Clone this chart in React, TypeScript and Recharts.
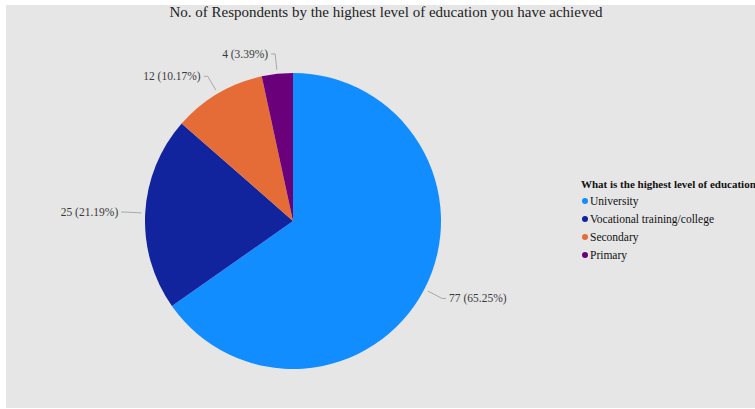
import React from 'react';
import { PieChart, Pie, Cell, Legend } from 'recharts';

const categories = ['University', 'Vocational training/college', 'Secondary', 'Primary'];
const respondents = [77, 25, 12, 4];
const colors = ['#118DFF', '#12239E', '#E66C37', '#6B007B'];

const chartTitle = 'No. of Respondents by the highest level of education you have achieved';
const legendTitle = 'What is the highest level of education';

const data = categories.map((name, i) => ({ name, value: respondents[i] }));
const total = respondents.reduce((a, b) => a + b, 0);

const RADIAN = Math.PI / 180;
const FONT = '"Liberation Serif", "DejaVu Serif", serif';

const renderLabel = (props: any) => {
  const { cx, cy, midAngle, outerRadius, value } = props;
  const cos = Math.cos(-midAngle * RADIAN);
  const sin = Math.sin(-midAngle * RADIAN);
  const sx = cx + (outerRadius + 4) * cos;
  const sy = cy + (outerRadius + 4) * sin;
  const mx = cx + (outerRadius + 20) * cos;
  const my = cy + (outerRadius + 20) * sin;
  const right = cos >= 0;
  const ex = mx + (right ? 4 : -4);
  const tx = ex + (right ? 3 : -3);
  const pct = ((value / total) * 100).toFixed(2);
  return (
    <g>
      <polyline
        points={`${sx},${sy} ${mx},${my} ${ex},${my}`}
        fill="none"
        stroke="#a8a8a8"
        strokeWidth={1}
      />
      <text
        x={tx}
        y={my}
        textAnchor={right ? 'start' : 'end'}
        dominantBaseline="central"
        fontFamily={FONT}
        fontSize={11.5}
        fill="#3a3a3a"
      >
        {`${value} (${pct}%)`}
      </text>
    </g>
  );
};

const renderLegend = () => (
  <div style={{ fontFamily: FONT, fontSize: 11.5, color: '#111', whiteSpace: 'nowrap' }}>
    <div style={{ fontFamily: FONT, fontWeight: 'bold', fontSize: 11, marginBottom: 2 }}>{legendTitle}</div>
    {data.map((d, i) => (
      <div key={d.name} style={{ display: 'flex', alignItems: 'center', height: 18 }}>
        <span
          style={{
            display: 'inline-block',
            width: 6,
            height: 6,
            borderRadius: 3,
            background: colors[i],
            marginRight: 2,
            marginLeft: 1
          }}
        />
        <span style={{ fontFamily: FONT }}>{d.name}</span>
      </div>
    ))}
  </div>
);

const App: React.FC = () => {
  return (
    <div style={{ position: 'fixed', left: 0, top: 0, width: 755, height: 409, background: '#fff', overflow: 'hidden', fontFamily: FONT }}>
      <div style={{ position: 'absolute', left: 6, top: 5, width: 749, height: 403, background: '#e6e6e6', overflow: 'hidden' }}>
        <div
          style={{
            position: 'absolute',
            left: 0,
            top: -1,
            width: 760,
            textAlign: 'center',
            fontFamily: FONT,
            fontSize: 15,
            lineHeight: '17px',
            color: '#222'
          }}
        >
          {chartTitle}
        </div>
        <PieChart width={749} height={403} style={{ position: 'absolute', left: 0, top: 0 }}>
          <Pie
            data={data}
            dataKey="value"
            nameKey="name"
            cx={282}
            cy={211}
            outerRadius={148}
            startAngle={90}
            endAngle={-270}
            stroke="none"
            label={renderLabel}
            labelLine={false}
            isAnimationActive={false}
          >
            {data.map((d, i) => (
              <Cell key={d.name} fill={colors[i]} />
            ))}
          </Pie>
          <Legend
            content={renderLegend}
            wrapperStyle={{ position: 'absolute', left: 575, top: 173, width: 174, fontFamily: FONT }}
          />
        </PieChart>
      </div>
    </div>
  );
};

export default App;
